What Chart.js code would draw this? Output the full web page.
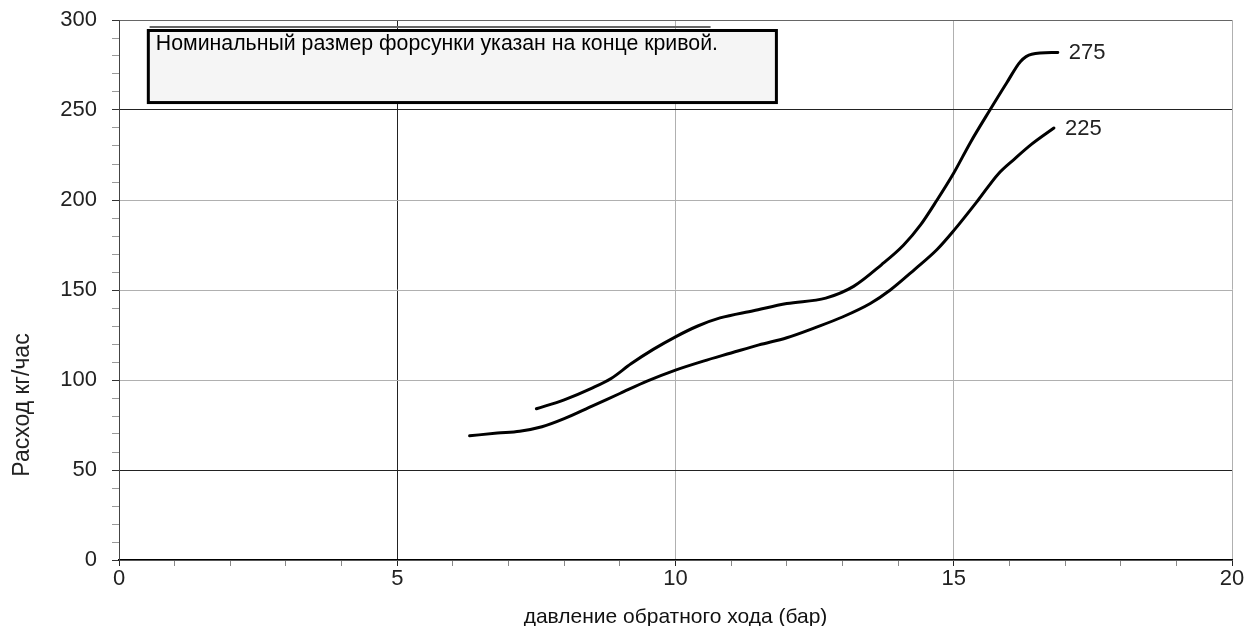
<!DOCTYPE html>
<html>
<head>
<meta charset="utf-8">
<script src="https://cdn.jsdelivr.net/npm/chart.js@4"></script>
<style>
  html, body { margin: 0; padding: 0; background: #fff; }
  #wrap { width: 1250px; height: 626px; }
</style>
</head>
<body>
<div id="wrap"><canvas id="chart" width="1250" height="626"></canvas></div>
<script>
// данные кривых (давление обратного хода, бар -> расход, кг/час)
const x275 = [7.5, 8.0, 8.5, 8.85, 9.2, 9.6, 10.0, 10.4, 10.8, 11.4, 12.0, 12.7, 13.2, 13.7, 14.1, 14.4, 14.7, 15.0, 15.3, 15.65, 15.95, 16.2, 16.4, 16.87];
const y275 = [84, 89, 95.5, 101, 109, 117, 124, 130, 134.5, 138.5, 142.5, 145.5, 152, 164, 175, 186, 200, 215, 232, 250, 265, 277, 281, 282];

const x225 = [6.3, 6.8, 7.2, 7.6, 8.0, 8.5, 9.0, 9.5, 10.0, 10.5, 11.0, 11.5, 12.0, 12.5, 13.0, 13.5, 13.86, 14.3, 14.7, 15.0, 15.44, 15.8, 16.1, 16.4, 16.8];
const y225 = [69, 70.5, 71.5, 74, 78.5, 85.5, 92.5, 99.5, 105.5, 110.5, 115, 119.5, 123.5, 129, 135, 142.5, 150, 161.5, 172.5, 183, 200, 214.5, 223, 231, 240];

const curveNames = ['275', '225'];
const xTickLabels = [0, 5, 10, 15, 20];
const yTickLabels = [0, 50, 100, 150, 200, 250, 300];
const noteText = 'Номинальный размер форсунки указан на конце кривой.';
const yTitle = 'Расход кг/час';
const xTitle = 'давление обратного хода (бар)';

const FONT = '"Liberation Sans", Arial, sans-serif';

function toPoints(xs, ys) {
    return xs.map((x, i) => ({ x: x, y: ys[i] }));
}

// цвета сетки: часть линий чёрные, часть серые
function xGridColor(v) {
    if (v === 5) return '#222';
    if (v % 5 === 0) return '#b0b0b0';
    return 'rgba(0,0,0,0)';
}
function yGridColor(v) {
    if (v === 50 || v === 250) return '#222';
    if (v === 300) return '#666';
    if (v % 50 === 0) return '#b0b0b0';
    return 'rgba(0,0,0,0)';
}

// подписи, рамка с примечанием и заголовки осей
const extrasPlugin = {
    id: 'extras',
    afterDatasetsDraw(chart) {
        const ctx = chart.ctx;
        const xs = chart.scales.x;
        const ys = chart.scales.y;
        const area = chart.chartArea;
        ctx.save();

        // подписи на конце кривых
        ctx.fillStyle = '#222';
        ctx.font = '22px ' + FONT;
        ctx.textBaseline = 'middle';
        ctx.textAlign = 'left';
        chart.data.datasets.forEach((ds) => {
            const last = ds.data[ds.data.length - 1];
            ctx.fillText(ds.label, xs.getPixelForValue(last.x) + 11, ys.getPixelForValue(last.y) + 1);
        });

        // рамка примечания
        const bx1 = xs.getPixelForValue(0.5);
        const bx2 = xs.getPixelForValue(11.84);
        const by1 = ys.getPixelForValue(295);
        const by2 = ys.getPixelForValue(253.3);
        ctx.fillStyle = '#666';
        ctx.fillRect(xs.getPixelForValue(0.55), by1 - 3, xs.getPixelForValue(10.63) - xs.getPixelForValue(0.55), 2);
        ctx.fillStyle = '#f5f5f5';
        ctx.fillRect(bx1, by1, bx2 - bx1, by2 - by1);
        ctx.strokeStyle = '#000';
        ctx.lineWidth = 3;
        ctx.strokeRect(bx1 + 1.5, by1 + 1.5, bx2 - bx1 - 3, by2 - by1 - 3);
        ctx.fillStyle = '#000';
        ctx.font = '21.3px ' + FONT;
        ctx.textBaseline = 'alphabetic';
        ctx.fillText(noteText, bx1 + 9, by1 + 21);

        // заголовок оси X
        ctx.fillStyle = '#111';
        ctx.textAlign = 'center';
        ctx.textBaseline = 'middle';
        ctx.font = '21px ' + FONT;
        ctx.fillText(xTitle, (area.left + area.right) / 2, 617);

        // заголовок оси Y
        ctx.translate(23, 405);
        ctx.rotate(-Math.PI / 2);
        ctx.font = '23px ' + FONT;
        ctx.fillStyle = '#222';
        ctx.fillText(yTitle, 0, 0);
        ctx.restore();
    }
};

const datasets = [
    { label: curveNames[0], data: toPoints(x275, y275) },
    { label: curveNames[1], data: toPoints(x225, y225) }
].map(ds => Object.assign(ds, {
    borderColor: '#000',
    borderWidth: 3,
    pointRadius: 0,
    fill: false,
    cubicInterpolationMode: 'monotone',
    borderCapStyle: 'round',
    borderJoinStyle: 'round'
}));

new Chart(document.getElementById('chart'), {
    type: 'line',
    data: { datasets: datasets },
    options: {
        responsive: false,
        animation: false,
        layout: { autoPadding: false, padding: { top: 20, right: 18, left: 0, bottom: 0 } },
        plugins: { legend: { display: false }, tooltip: { enabled: false } },
        scales: {
            x: {
                type: 'linear',
                min: 0, max: 20,
                afterFit(scale) {
                    scale.height = 66;
                    scale.paddingLeft = 0;
                    scale.paddingRight = 0;
                },
                ticks: {
                    stepSize: 1,
                    autoSkip: false,
                    maxRotation: 0,
                    padding: 0,
                    color: '#222',
                    font: { family: FONT, size: 22 },
                    callback: v => xTickLabels.includes(v) ? String(v) : ''
                },
                grid: {
                    color: c => xGridColor(c.tick ? c.tick.value : -1),
                    tickColor: c => (c.tick && c.tick.value % 5 === 0) ? '#222' : '#888',
                    tickLength: 6,
                    lineWidth: 1
                },
                border: { color: '#000', width: 1.5 }
            },
            y: {
                min: 0, max: 300,
                afterFit(scale) {
                    scale.width = 119;
                    scale.paddingTop = 0;
                    scale.paddingBottom = 0;
                },
                ticks: {
                    stepSize: 10,
                    autoSkip: false,
                    padding: 15,
                    color: '#222',
                    font: { family: FONT, size: 22 },
                    callback: v => yTickLabels.includes(v) ? String(v) : ''
                },
                grid: {
                    color: c => yGridColor(c.tick ? c.tick.value : -1),
                    tickColor: c => (c.tick && c.tick.value % 50 === 0) ? '#333' : '#999',
                    tickLength: 7,
                    lineWidth: 1
                },
                border: { color: '#444', width: 1 }
            }
        }
    },
    plugins: [extrasPlugin]
});
</script>
</body>
</html>
